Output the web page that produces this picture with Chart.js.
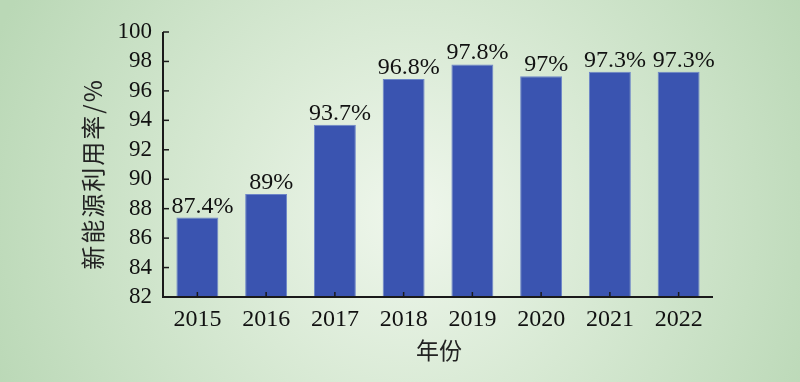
<!DOCTYPE html>
<html><head><meta charset="utf-8">
<script src="https://cdn.jsdelivr.net/npm/chart.js@4/dist/chart.umd.min.js"></script>
<style>html,body{margin:0;padding:0;background:#d4e8d0;}#wrap{width:800px;height:382px;}</style>
</head><body><div id="wrap"><canvas id="c" width="800" height="382"></canvas></div>
<script>
const categories = ['2015','2016','2017','2018','2019','2020','2021','2022'];
const values = [87.4, 89, 93.7, 96.8, 97.8, 97, 97.3, 97.3];
const valueLabels = ['87.4%','89%','93.7%','96.8%','97.8%','97%','97.3%','97.3%'];
const yMin = 82, yMax = 100, yStep = 2;
const yTitle = '新能源利用率/%';
const xTitle = '年份';

const serif = "'Liberation Serif', 'Times New Roman', serif";
const cjk = "'Noto Sans CJK SC', sans-serif";

const bgPlugin = {
  id: 'bg',
  beforeDraw(chart) {
    const ctx = chart.ctx, w = chart.width, h = chart.height;
    const g = ctx.createRadialGradient(410, 215, 10, 410, 215, 450);
    g.addColorStop(0, '#eef6eb');
    g.addColorStop(0.4, '#d9ead5');
    g.addColorStop(1, '#bad8b6');
    ctx.save(); ctx.fillStyle = g; ctx.fillRect(0, 0, w, h); ctx.restore();
  }
};

const decoPlugin = {
  id: 'deco',
  afterDatasetsDraw(chart) {
    const ctx = chart.ctx, xs = chart.scales.x, ys = chart.scales.y, a = chart.chartArea;
    ctx.save();
    ctx.strokeStyle = '#1a1a1a'; ctx.lineWidth = 2;
    ctx.beginPath();
    ctx.moveTo(a.left, a.top); ctx.lineTo(a.left, a.bottom); ctx.lineTo(a.right, a.bottom);
    ctx.stroke();
    ctx.lineWidth = 1.5;
    ys.ticks.forEach(t => {
      const y = ys.getPixelForValue(t.value);
      ctx.beginPath(); ctx.moveTo(a.left, y); ctx.lineTo(a.left + 6, y); ctx.stroke();
    });
    categories.forEach((c, i) => {
      const x = xs.getPixelForValue(i);
      ctx.beginPath(); ctx.moveTo(x, a.bottom); ctx.lineTo(x, a.bottom - 5); ctx.stroke();
    });
    const meta = chart.getDatasetMeta(0);
    ctx.fillStyle = '#111'; ctx.font = '24px ' + serif;
    ctx.textAlign = 'center'; ctx.textBaseline = 'alphabetic';
    meta.data.forEach((bar, i) => {
      ctx.fillText(valueLabels[i], bar.x + 5, bar.y - 5);
    });
    ctx.font = '23px ' + cjk; ctx.fillStyle = '#222';
    ctx.textAlign = 'center'; ctx.textBaseline = 'middle';
    ctx.fillText(xTitle, (a.left + a.right) / 2 + 1, 350);
    ctx.translate(93, 174); ctx.rotate(-Math.PI / 2);
    ctx.font = '24px ' + cjk;
    try { ctx.letterSpacing = '2px'; } catch (e) {}
    ctx.fillText(yTitle, 0, 0);
    ctx.restore();
  }
};

function draw() {
  new Chart(document.getElementById('c'), {
    type: 'bar',
    data: {
      labels: categories,
      datasets: [{
        data: values,
        backgroundColor: '#3a54b0',
        borderColor: '#6d85c8',
        borderWidth: 1,
        barPercentage: 0.61,
        categoryPercentage: 1
      }]
    },
    options: {
      responsive: false,
      animation: false,
      devicePixelRatio: 1,
      layout: { padding: { left: 0, top: 32, right: 87, bottom: 0 } },
      plugins: { legend: { display: false }, tooltip: { enabled: false } },
      scales: {
        x: {
          grid: { display: false, drawTicks: false },
          border: { display: false },
          ticks: { color: '#111', font: { family: serif, size: 24 }, padding: 8, maxRotation: 0, autoSkip: false },
          afterFit(s) { s.height = 382 - 297; }
        },
        y: {
          min: yMin, max: yMax,
          grid: { display: false, drawTicks: false },
          border: { display: false },
          ticks: { stepSize: yStep, color: '#111', font: { family: serif, size: 23 }, padding: 11, autoSkip: false },
          afterFit(s) { s.width = 163; }
        }
      }
    },
    plugins: [bgPlugin, decoPlugin]
  });
}
Promise.all([
  document.fonts.load("23px 'Liberation Serif'"),
  document.fonts.load("23px 'Noto Sans CJK SC'", '年份')
]).then(draw, draw);
</script></body></html>
